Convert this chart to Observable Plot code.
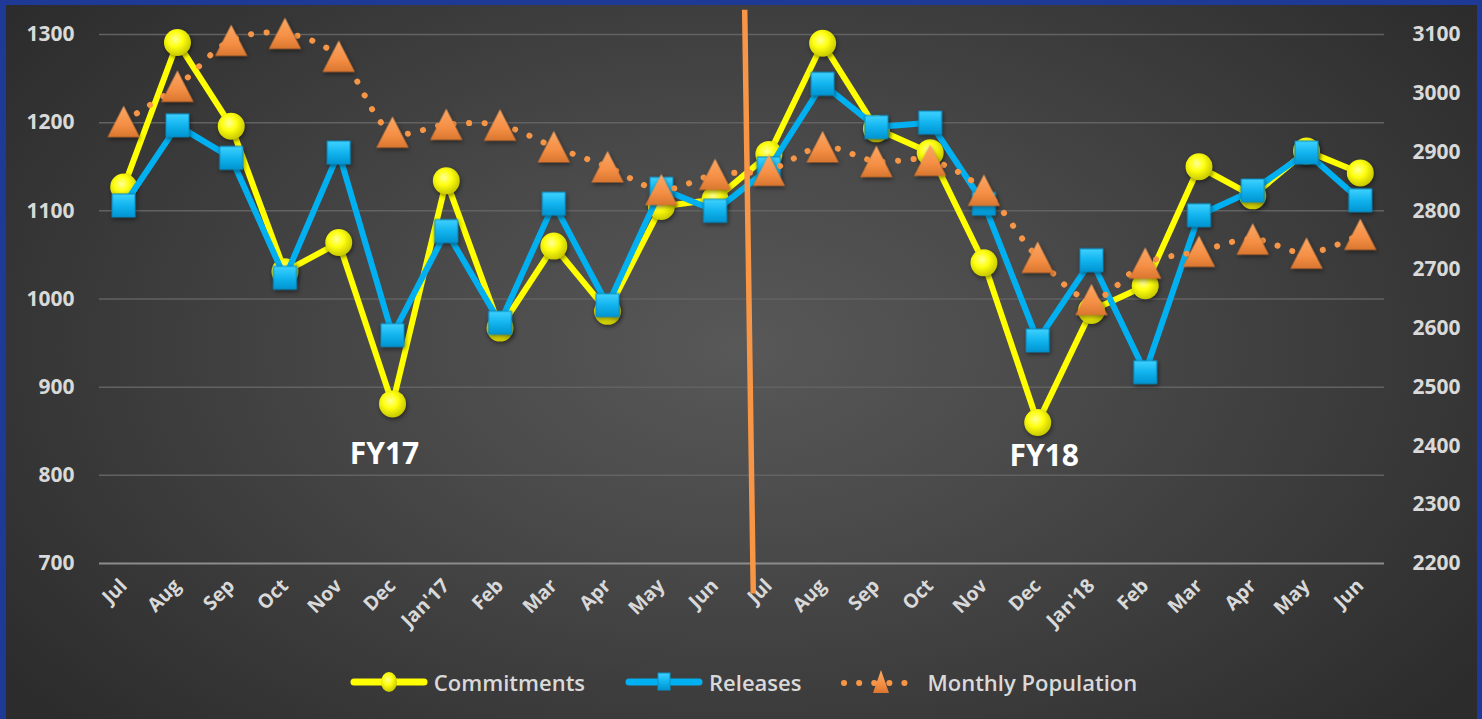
<!DOCTYPE html>
<html>
<head>
<meta charset="utf-8">
<script src="https://cdn.jsdelivr.net/npm/d3@7"></script>
<script src="https://cdn.jsdelivr.net/npm/@observablehq/plot@0.6"></script>
<style>
  html, body { margin: 0; padding: 0; background: #2a2a2a; }
  #frame {
    position: relative; width: 1482px; height: 719px; box-sizing: border-box;
    border-top: 5px solid #1f3a96; border-left: 6px solid #1f3a96; border-right: 5px solid #1f3a96;
    background: radial-gradient(ellipse 62% 78% at 50% 48%, #585858 0%, #4a4a4a 35%, #2c2c2c 100%);
    overflow: hidden; font-family: "Open Sans", sans-serif;
  }
  #chart svg { display: block; }
  #legend {
    height: 74px; display: flex; justify-content: center; align-items: center;
    padding-left: 4px; box-sizing: border-box; color: #d9d9d9; font-size: 22px; font-weight: 600;
  }
  .item { display: flex; align-items: center; margin: 0 20px; }
  .item svg { display: block; margin-right: 6px; }
</style>
</head>
<body>
<div id="frame">
  <div id="chart"></div>
  <div id="legend"></div>
</div>
<script>
// ---- data ----
const months = ["Jul","Aug","Sep","Oct","Nov","Dec","Jan'17","Feb","Mar","Apr","May","Jun",
                "Jul","Aug","Sep","Oct","Nov","Dec","Jan'18","Feb","Mar","Apr","May","Jun"];
const commitments = [1127,1291,1196,1031,1064,881,1134,967,1060,986,1105,1113,
                     1164,1290,1193,1166,1041,860,987,1015,1150,1117,1168,1143];
const releases    = [1106,1197,1160,1024,1166,959,1077,973,1108,993,1125,1100,
                     1148,1244,1195,1200,1108,953,1044,917,1095,1123,1166,1112];
const population  = [2952,3012,3090,3102,3063,2934,2947,2946,2909,2875,2836,2862,
                     2869,2909,2884,2886,2835,2721,2649,2711,2731,2752,2728,2760];
const leftTicks  = [700,800,900,1000,1100,1200,1300];
const rightTicks = [2200,2300,2400,2500,2600,2700,2800,2900,3000,3100];
const seriesNames = ["Commitments","Releases","Monthly Population"];
const fyLabels = ["FY17","FY18"];

// annotation anchors (in data units: month index, left-axis value)
const fyAnchors = [{x: 4.85, y: 824}, {x: 17.12, y: 821}];
const dividerEnds = {x1: 11.55, y1: 1328, x2: 11.71, y2: 666};

// ---- helpers ----
const toLeft = v => 700 + (v - 2200) * 600 / 900;
const fromLeft = y => 2200 + (y - 700) * 900 / 600;
const idx = d3.range(months.length);
const rows = idx.map(i => ({i, c: commitments[i], r: releases[i], p: toLeft(population[i])}));
const fyRows = fyLabels.map((t, k) => ({label: t, ...fyAnchors[k]}));

const triBox = {
  draw(ctx, size) {
    const s = Math.sqrt(size), w = s * 1.5, h = s * 1.45;
    ctx.moveTo(0, -h / 2); ctx.lineTo(w / 2, h / 2); ctx.lineTo(-w / 2, h / 2); ctx.closePath();
  }
};

const W = 1471, H = 640;
const chart = Plot.plot({
  width: W, height: H,
  marginLeft: 93, marginRight: 93, marginTop: 29, marginBottom: H - 558,
  x: {type: "linear", domain: [-0.45, 23.45], axis: null},
  y: {domain: [700, 1300], axis: null},
  style: {background: "transparent", color: "#d9d9d9", fontFamily: "Open Sans, sans-serif", overflow: "visible"},
  marks: [
    Plot.ruleY(leftTicks.slice(1), {stroke: "#626262", strokeWidth: 1.5}),
    Plot.ruleY([700], {stroke: "#8c8c8c", strokeWidth: 2}),
    Plot.axisY({anchor: "left", ticks: leftTicks, tickFormat: d => String(d), tickSize: 0, tickPadding: 25,
                fontSize: 21, fontWeight: "bold", label: null}),
    Plot.axisY({anchor: "right", ticks: rightTicks.map(toLeft),
                tickFormat: d => String(Math.round(fromLeft(d))),
                tickSize: 0, tickPadding: 28, fontSize: 21, fontWeight: "bold", label: null}),
    Plot.axisX({ticks: idx, tickFormat: i => months[i], tickRotate: -45, tickSize: 0, tickPadding: 19,
                fontSize: 19.5, fontWeight: "bold", label: null}),
    Plot.line(rows, {x: "i", y: "c", stroke: "#ffff00", strokeWidth: 6, strokeLinejoin: "round"}),
    Plot.dot(rows, {x: "i", y: "c", r: 13.5, symbol: "circle", fill: "url(#gY)"}),
    Plot.line(rows, {x: "i", y: "r", stroke: "#00b0f0", strokeWidth: 6, strokeLinejoin: "round"}),
    Plot.dot(rows, {x: "i", y: "r", r: 13, symbol: "square", fill: "url(#gB)", stroke: "#0a8fc6", strokeWidth: 1}),
    Plot.line(rows, {x: "i", y: "p", stroke: "#f79646", strokeWidth: 6, strokeDasharray: "0.1 15.5",
                     strokeLinecap: "round", curve: "catmull-rom"}),
    Plot.dot(rows, {x: "i", y: "p", r: 12.2, symbol: triBox, fill: "url(#gO)"}),
    Plot.text(fyRows, {x: "x", y: "y", text: "label", fontSize: 30, fontWeight: "bold", fill: "#ffffff"}),
    Plot.link([dividerEnds], {x1: "x1", y1: "y1", x2: "x2", y2: "y2", stroke: "#f79646", strokeWidth: 5.5})
  ]
});

const ns = "http://www.w3.org/2000/svg";
const defs = document.createElementNS(ns, "defs");
defs.innerHTML = `
  <radialGradient id="gY" cx="42%" cy="38%" r="62%">
    <stop offset="0" stop-color="#ffff9a"/><stop offset="0.45" stop-color="#ffff10"/><stop offset="1" stop-color="#c9c900"/>
  </radialGradient>
  <linearGradient id="gB" x1="0" y1="0" x2="0" y2="1">
    <stop offset="0" stop-color="#3fd2ff"/><stop offset="0.5" stop-color="#12b4ef"/><stop offset="1" stop-color="#0095d2"/>
  </linearGradient>
  <linearGradient id="gO" x1="0" y1="0" x2="0" y2="1">
    <stop offset="0" stop-color="#fba865"/><stop offset="0.6" stop-color="#f58f45"/><stop offset="1" stop-color="#d9762f"/>
  </linearGradient>`;
chart.insertBefore(defs, chart.firstChild);
chart.querySelectorAll('g[aria-label="dot"]').forEach(g => g.style.filter = "drop-shadow(1px 2px 2px rgba(0,0,0,0.45))");
document.getElementById("chart").appendChild(chart);

// ---- legend ----
const symbols = [
  `<svg width="78" height="30"><line x1="4" y1="15" x2="74" y2="15" stroke="#ffff00" stroke-width="7" stroke-linecap="round"/><ellipse cx="39" cy="15" rx="8" ry="10" fill="url(#gY)"/></svg>`,
  `<svg width="78" height="30"><line x1="4" y1="15" x2="74" y2="15" stroke="#00b0f0" stroke-width="7" stroke-linecap="round"/><rect x="33" y="6" width="12" height="17" fill="url(#gB)" stroke="#0a8fc6"/></svg>`,
  `<svg width="80" height="30"><line x1="3" y1="16" x2="77" y2="16" stroke="#f79646" stroke-width="6" stroke-dasharray="0.1 15" stroke-linecap="round"/><path d="M40 3 L48 26 L32 26 Z" fill="url(#gO)"/></svg>`
];
const legend = document.getElementById("legend");
seriesNames.forEach((name, k) => {
  const it = document.createElement("div");
  it.className = "item";
  it.innerHTML = symbols[k] + `<span>${name}</span>`;
  legend.appendChild(it);
});
</script>
</body>
</html>
